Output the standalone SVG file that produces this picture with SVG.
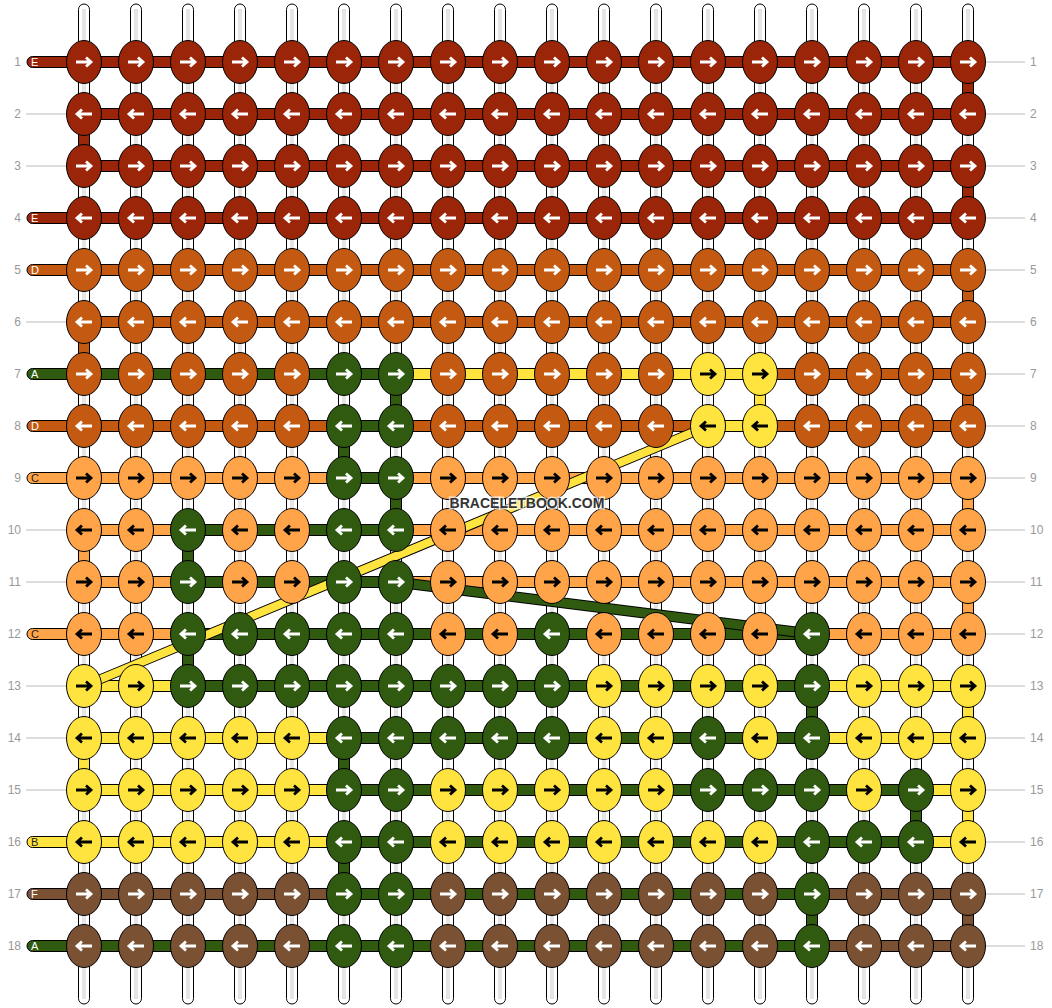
<svg xmlns="http://www.w3.org/2000/svg" xmlns:xlink="http://www.w3.org/1999/xlink" width="1052" height="1008" viewBox="0 0 1052 1008">
<style>
.E{fill:#9A2508}.D{fill:#C45A12}.C{fill:#FFA448}.A{fill:#2F5A10}.B{fill:#FFE43F}.F{fill:#7A5233}
.n{stroke:#fff}.n.C,.n.B{stroke:#000}
#conn rect{stroke:#000;stroke-width:1}
.num{font-family:"Liberation Sans",Arial,sans-serif;font-size:12px;fill:#999}
.lab{font-family:"Liberation Sans",Arial,sans-serif;font-size:11px;fill:#fff}
.lab.dk{fill:#222}
.gl{stroke:#bbb;stroke-width:1}
.wm{font-family:"Liberation Sans",Arial,sans-serif;font-size:14px;font-weight:bold;fill:#333;stroke:#fff;stroke-width:3;stroke-opacity:0.7;paint-order:stroke;text-anchor:middle}
</style>
<defs>
<ellipse id="k" rx="17.5" ry="21.5" stroke="#000" stroke-width="1"/>
<path id="r" d="M-8,0H6.5M2,-4.5L7,0L2,4.5" fill="none" stroke-width="2.8"/>
<path id="l" d="M8,0H-6.5M-2,-4.5L-7,0L-2,4.5" fill="none" stroke-width="2.8"/>
<g id="st"><rect x="-5.5" y="4" width="11" height="1000" rx="5.5" fill="#fff" stroke="#000"/><line x1="0" y1="9" x2="0" y2="999" stroke="#ccc" stroke-width="3"/><line x1="0" y1="9" x2="0" y2="999" stroke="#fff" stroke-width="1"/></g>
</defs>
<rect width="1052" height="1008" fill="#fff"/>
<g id="strings">
<use href="#st" x="84"/><use href="#st" x="136"/><use href="#st" x="188"/><use href="#st" x="240"/><use href="#st" x="292"/><use href="#st" x="344"/><use href="#st" x="396"/><use href="#st" x="448"/><use href="#st" x="500"/><use href="#st" x="552"/><use href="#st" x="604"/><use href="#st" x="656"/><use href="#st" x="708"/><use href="#st" x="760"/><use href="#st" x="812"/><use href="#st" x="864"/><use href="#st" x="916"/><use href="#st" x="968"/>
</g>
<g id="rowlines" class="gl">
<line x1="26" y1="114" x2="67" y2="114"/><line x1="26" y1="166" x2="67" y2="166"/><line x1="26" y1="322" x2="67" y2="322"/><line x1="26" y1="530" x2="67" y2="530"/><line x1="26" y1="582" x2="67" y2="582"/><line x1="26" y1="686" x2="67" y2="686"/><line x1="26" y1="738" x2="67" y2="738"/><line x1="26" y1="790" x2="67" y2="790"/>
<line x1="985" y1="62" x2="1025" y2="62"/><line x1="985" y1="114" x2="1025" y2="114"/><line x1="985" y1="166" x2="1025" y2="166"/><line x1="985" y1="218" x2="1025" y2="218"/><line x1="985" y1="270" x2="1025" y2="270"/><line x1="985" y1="322" x2="1025" y2="322"/><line x1="985" y1="374" x2="1025" y2="374"/><line x1="985" y1="426" x2="1025" y2="426"/><line x1="985" y1="478" x2="1025" y2="478"/><line x1="985" y1="530" x2="1025" y2="530"/><line x1="985" y1="582" x2="1025" y2="582"/><line x1="985" y1="634" x2="1025" y2="634"/><line x1="985" y1="686" x2="1025" y2="686"/><line x1="985" y1="738" x2="1025" y2="738"/><line x1="985" y1="790" x2="1025" y2="790"/><line x1="985" y1="842" x2="1025" y2="842"/><line x1="985" y1="894" x2="1025" y2="894"/><line x1="985" y1="946" x2="1025" y2="946"/>
</g>
<g id="conn">
<rect class="E" x="78.5" y="114" width="11" height="52"/><rect class="D" x="78.5" y="322" width="11" height="52"/><rect class="C" x="78.5" y="530" width="11" height="52"/><rect class="B" x="78.5" y="738" width="11" height="52"/>
<rect class="E" x="962.5" y="62" width="11" height="52"/><rect class="E" x="962.5" y="166" width="11" height="52"/><rect class="D" x="962.5" y="270" width="11" height="52"/><rect class="D" x="962.5" y="374" width="11" height="52"/><rect class="C" x="962.5" y="478" width="11" height="52"/><rect class="C" x="962.5" y="582" width="11" height="52"/><rect class="B" x="962.5" y="686" width="11" height="52"/><rect class="B" x="962.5" y="790" width="11" height="52"/><rect class="F" x="962.5" y="894" width="11" height="52"/>
<rect class="A" x="390.5" y="374" width="11" height="52"/><rect class="A" x="390.5" y="478" width="11" height="52"/>
<rect class="A" x="338.5" y="426" width="11" height="52"/><rect class="A" x="338.5" y="738" width="11" height="52"/><rect class="A" x="338.5" y="842" width="11" height="52"/>
<rect class="A" x="182.5" y="530" width="11" height="52"/><rect class="A" x="182.5" y="634" width="11" height="52"/>
<rect class="B" x="754.5" y="374" width="11" height="52"/>
<rect class="A" x="806.5" y="686" width="11" height="52"/><rect class="A" x="806.5" y="894" width="11" height="52"/>
<rect class="A" x="910.5" y="790" width="11" height="52"/>
<rect class="E" x="27" y="56.5" width="941" height="11" rx="5.5"/>
<rect class="E" x="84" y="108.5" width="884" height="11" rx="5.5"/>
<rect class="E" x="84" y="160.5" width="884" height="11" rx="5.5"/>
<rect class="E" x="27" y="212.5" width="941" height="11" rx="5.5"/>
<rect class="D" x="27" y="264.5" width="941" height="11" rx="5.5"/>
<rect class="D" x="84" y="316.5" width="884" height="11" rx="5.5"/>
<rect class="A" x="27" y="368.5" width="369" height="11" rx="5.5"/><rect class="B" x="396" y="368.5" width="364" height="11" rx="5.5"/><rect class="D" x="760" y="368.5" width="208" height="11" rx="5.5"/>
<rect class="D" x="27" y="420.5" width="317" height="11" rx="5.5"/><rect class="A" x="344" y="420.5" width="52" height="11" rx="5.5"/><rect class="D" x="396" y="420.5" width="312" height="11" rx="5.5"/><rect class="B" x="708" y="420.5" width="52" height="11" rx="5.5"/><rect class="D" x="760" y="420.5" width="208" height="11" rx="5.5"/>
<rect class="C" x="27" y="472.5" width="317" height="11" rx="5.5"/><rect class="A" x="344" y="472.5" width="52" height="11" rx="5.5"/><rect class="C" x="396" y="472.5" width="572" height="11" rx="5.5"/>
<rect class="C" x="84" y="524.5" width="104" height="11" rx="5.5"/><rect class="A" x="188" y="524.5" width="208" height="11" rx="5.5"/><rect class="C" x="396" y="524.5" width="572" height="11" rx="5.5"/>
<rect class="C" x="84" y="576.5" width="104" height="11" rx="5.5"/><rect class="A" x="188" y="576.5" width="208" height="11" rx="5.5"/><rect class="C" x="396" y="576.5" width="572" height="11" rx="5.5"/>
<rect class="C" x="27" y="628.5" width="161" height="11" rx="5.5"/><rect class="A" x="188" y="628.5" width="624" height="11" rx="5.5"/><rect class="C" x="812" y="628.5" width="156" height="11" rx="5.5"/>
<rect class="B" x="84" y="680.5" width="104" height="11" rx="5.5"/><rect class="A" x="188" y="680.5" width="624" height="11" rx="5.5"/><rect class="B" x="812" y="680.5" width="156" height="11" rx="5.5"/>
<rect class="B" x="84" y="732.5" width="260" height="11" rx="5.5"/><rect class="A" x="344" y="732.5" width="468" height="11" rx="5.5"/><rect class="B" x="812" y="732.5" width="156" height="11" rx="5.5"/>
<rect class="B" x="84" y="784.5" width="260" height="11" rx="5.5"/><rect class="A" x="344" y="784.5" width="572" height="11" rx="5.5"/><rect class="B" x="916" y="784.5" width="52" height="11" rx="5.5"/>
<rect class="B" x="27" y="836.5" width="317" height="11" rx="5.5"/><rect class="A" x="344" y="836.5" width="572" height="11" rx="5.5"/><rect class="B" x="916" y="836.5" width="52" height="11" rx="5.5"/>
<rect class="F" x="27" y="888.5" width="317" height="11" rx="5.5"/><rect class="A" x="344" y="888.5" width="468" height="11" rx="5.5"/><rect class="F" x="812" y="888.5" width="156" height="11" rx="5.5"/>
<rect class="A" x="27" y="940.5" width="785" height="11" rx="5.5"/><rect class="F" x="812" y="940.5" width="156" height="11" rx="5.5"/>
<line x1="84" y1="686" x2="708" y2="426" stroke="#000" stroke-width="10"/><line x1="84" y1="686" x2="708" y2="426" stroke="#FFE43F" stroke-width="8"/>
<line x1="396" y1="582" x2="812" y2="634" stroke="#000" stroke-width="11"/><line x1="396" y1="582" x2="812" y2="634" stroke="#2F5A10" stroke-width="9"/>
</g>
<g id="labels">
<text class="lab" x="31" y="66">E</text><text class="lab" x="31" y="222">E</text><text class="lab" x="31" y="274">D</text><text class="lab" x="31" y="378">A</text><text class="lab" x="31" y="430">D</text><text class="lab dk" x="31" y="482">C</text><text class="lab dk" x="31" y="638">C</text><text class="lab dk" x="31" y="846">B</text><text class="lab" x="31" y="898">F</text><text class="lab" x="31" y="950">A</text>
</g>
<g id="numbers" class="num">
<text x="21" y="66" text-anchor="end">1</text><text x="21" y="118" text-anchor="end">2</text><text x="21" y="170" text-anchor="end">3</text><text x="21" y="222" text-anchor="end">4</text><text x="21" y="274" text-anchor="end">5</text><text x="21" y="326" text-anchor="end">6</text><text x="21" y="378" text-anchor="end">7</text><text x="21" y="430" text-anchor="end">8</text><text x="21" y="482" text-anchor="end">9</text><text x="21" y="534" text-anchor="end">10</text><text x="21" y="586" text-anchor="end">11</text><text x="21" y="638" text-anchor="end">12</text><text x="21" y="690" text-anchor="end">13</text><text x="21" y="742" text-anchor="end">14</text><text x="21" y="794" text-anchor="end">15</text><text x="21" y="846" text-anchor="end">16</text><text x="21" y="898" text-anchor="end">17</text><text x="21" y="950" text-anchor="end">18</text>
<text x="1030" y="66">1</text><text x="1030" y="118">2</text><text x="1030" y="170">3</text><text x="1030" y="222">4</text><text x="1030" y="274">5</text><text x="1030" y="326">6</text><text x="1030" y="378">7</text><text x="1030" y="430">8</text><text x="1030" y="482">9</text><text x="1030" y="534">10</text><text x="1030" y="586">11</text><text x="1030" y="638">12</text><text x="1030" y="690">13</text><text x="1030" y="742">14</text><text x="1030" y="794">15</text><text x="1030" y="846">16</text><text x="1030" y="898">17</text><text x="1030" y="950">18</text>
</g>
<g id="knots">
<g id="n1-1" class="n E" transform="translate(84 62)"><use href="#k"/><use href="#r"/></g><g id="n1-2" class="n E" transform="translate(136 62)"><use href="#k"/><use href="#r"/></g><g id="n1-3" class="n E" transform="translate(188 62)"><use href="#k"/><use href="#r"/></g><g id="n1-4" class="n E" transform="translate(240 62)"><use href="#k"/><use href="#r"/></g><g id="n1-5" class="n E" transform="translate(292 62)"><use href="#k"/><use href="#r"/></g><g id="n1-6" class="n E" transform="translate(344 62)"><use href="#k"/><use href="#r"/></g><g id="n1-7" class="n E" transform="translate(396 62)"><use href="#k"/><use href="#r"/></g><g id="n1-8" class="n E" transform="translate(448 62)"><use href="#k"/><use href="#r"/></g><g id="n1-9" class="n E" transform="translate(500 62)"><use href="#k"/><use href="#r"/></g><g id="n1-10" class="n E" transform="translate(552 62)"><use href="#k"/><use href="#r"/></g><g id="n1-11" class="n E" transform="translate(604 62)"><use href="#k"/><use href="#r"/></g><g id="n1-12" class="n E" transform="translate(656 62)"><use href="#k"/><use href="#r"/></g><g id="n1-13" class="n E" transform="translate(708 62)"><use href="#k"/><use href="#r"/></g><g id="n1-14" class="n E" transform="translate(760 62)"><use href="#k"/><use href="#r"/></g><g id="n1-15" class="n E" transform="translate(812 62)"><use href="#k"/><use href="#r"/></g><g id="n1-16" class="n E" transform="translate(864 62)"><use href="#k"/><use href="#r"/></g><g id="n1-17" class="n E" transform="translate(916 62)"><use href="#k"/><use href="#r"/></g><g id="n1-18" class="n E" transform="translate(968 62)"><use href="#k"/><use href="#r"/></g>
<g id="n2-1" class="n E" transform="translate(84 114)"><use href="#k"/><use href="#l"/></g><g id="n2-2" class="n E" transform="translate(136 114)"><use href="#k"/><use href="#l"/></g><g id="n2-3" class="n E" transform="translate(188 114)"><use href="#k"/><use href="#l"/></g><g id="n2-4" class="n E" transform="translate(240 114)"><use href="#k"/><use href="#l"/></g><g id="n2-5" class="n E" transform="translate(292 114)"><use href="#k"/><use href="#l"/></g><g id="n2-6" class="n E" transform="translate(344 114)"><use href="#k"/><use href="#l"/></g><g id="n2-7" class="n E" transform="translate(396 114)"><use href="#k"/><use href="#l"/></g><g id="n2-8" class="n E" transform="translate(448 114)"><use href="#k"/><use href="#l"/></g><g id="n2-9" class="n E" transform="translate(500 114)"><use href="#k"/><use href="#l"/></g><g id="n2-10" class="n E" transform="translate(552 114)"><use href="#k"/><use href="#l"/></g><g id="n2-11" class="n E" transform="translate(604 114)"><use href="#k"/><use href="#l"/></g><g id="n2-12" class="n E" transform="translate(656 114)"><use href="#k"/><use href="#l"/></g><g id="n2-13" class="n E" transform="translate(708 114)"><use href="#k"/><use href="#l"/></g><g id="n2-14" class="n E" transform="translate(760 114)"><use href="#k"/><use href="#l"/></g><g id="n2-15" class="n E" transform="translate(812 114)"><use href="#k"/><use href="#l"/></g><g id="n2-16" class="n E" transform="translate(864 114)"><use href="#k"/><use href="#l"/></g><g id="n2-17" class="n E" transform="translate(916 114)"><use href="#k"/><use href="#l"/></g><g id="n2-18" class="n E" transform="translate(968 114)"><use href="#k"/><use href="#l"/></g>
<g id="n3-1" class="n E" transform="translate(84 166)"><use href="#k"/><use href="#r"/></g><g id="n3-2" class="n E" transform="translate(136 166)"><use href="#k"/><use href="#r"/></g><g id="n3-3" class="n E" transform="translate(188 166)"><use href="#k"/><use href="#r"/></g><g id="n3-4" class="n E" transform="translate(240 166)"><use href="#k"/><use href="#r"/></g><g id="n3-5" class="n E" transform="translate(292 166)"><use href="#k"/><use href="#r"/></g><g id="n3-6" class="n E" transform="translate(344 166)"><use href="#k"/><use href="#r"/></g><g id="n3-7" class="n E" transform="translate(396 166)"><use href="#k"/><use href="#r"/></g><g id="n3-8" class="n E" transform="translate(448 166)"><use href="#k"/><use href="#r"/></g><g id="n3-9" class="n E" transform="translate(500 166)"><use href="#k"/><use href="#r"/></g><g id="n3-10" class="n E" transform="translate(552 166)"><use href="#k"/><use href="#r"/></g><g id="n3-11" class="n E" transform="translate(604 166)"><use href="#k"/><use href="#r"/></g><g id="n3-12" class="n E" transform="translate(656 166)"><use href="#k"/><use href="#r"/></g><g id="n3-13" class="n E" transform="translate(708 166)"><use href="#k"/><use href="#r"/></g><g id="n3-14" class="n E" transform="translate(760 166)"><use href="#k"/><use href="#r"/></g><g id="n3-15" class="n E" transform="translate(812 166)"><use href="#k"/><use href="#r"/></g><g id="n3-16" class="n E" transform="translate(864 166)"><use href="#k"/><use href="#r"/></g><g id="n3-17" class="n E" transform="translate(916 166)"><use href="#k"/><use href="#r"/></g><g id="n3-18" class="n E" transform="translate(968 166)"><use href="#k"/><use href="#r"/></g>
<g id="n4-1" class="n E" transform="translate(84 218)"><use href="#k"/><use href="#l"/></g><g id="n4-2" class="n E" transform="translate(136 218)"><use href="#k"/><use href="#l"/></g><g id="n4-3" class="n E" transform="translate(188 218)"><use href="#k"/><use href="#l"/></g><g id="n4-4" class="n E" transform="translate(240 218)"><use href="#k"/><use href="#l"/></g><g id="n4-5" class="n E" transform="translate(292 218)"><use href="#k"/><use href="#l"/></g><g id="n4-6" class="n E" transform="translate(344 218)"><use href="#k"/><use href="#l"/></g><g id="n4-7" class="n E" transform="translate(396 218)"><use href="#k"/><use href="#l"/></g><g id="n4-8" class="n E" transform="translate(448 218)"><use href="#k"/><use href="#l"/></g><g id="n4-9" class="n E" transform="translate(500 218)"><use href="#k"/><use href="#l"/></g><g id="n4-10" class="n E" transform="translate(552 218)"><use href="#k"/><use href="#l"/></g><g id="n4-11" class="n E" transform="translate(604 218)"><use href="#k"/><use href="#l"/></g><g id="n4-12" class="n E" transform="translate(656 218)"><use href="#k"/><use href="#l"/></g><g id="n4-13" class="n E" transform="translate(708 218)"><use href="#k"/><use href="#l"/></g><g id="n4-14" class="n E" transform="translate(760 218)"><use href="#k"/><use href="#l"/></g><g id="n4-15" class="n E" transform="translate(812 218)"><use href="#k"/><use href="#l"/></g><g id="n4-16" class="n E" transform="translate(864 218)"><use href="#k"/><use href="#l"/></g><g id="n4-17" class="n E" transform="translate(916 218)"><use href="#k"/><use href="#l"/></g><g id="n4-18" class="n E" transform="translate(968 218)"><use href="#k"/><use href="#l"/></g>
<g id="n5-1" class="n D" transform="translate(84 270)"><use href="#k"/><use href="#r"/></g><g id="n5-2" class="n D" transform="translate(136 270)"><use href="#k"/><use href="#r"/></g><g id="n5-3" class="n D" transform="translate(188 270)"><use href="#k"/><use href="#r"/></g><g id="n5-4" class="n D" transform="translate(240 270)"><use href="#k"/><use href="#r"/></g><g id="n5-5" class="n D" transform="translate(292 270)"><use href="#k"/><use href="#r"/></g><g id="n5-6" class="n D" transform="translate(344 270)"><use href="#k"/><use href="#r"/></g><g id="n5-7" class="n D" transform="translate(396 270)"><use href="#k"/><use href="#r"/></g><g id="n5-8" class="n D" transform="translate(448 270)"><use href="#k"/><use href="#r"/></g><g id="n5-9" class="n D" transform="translate(500 270)"><use href="#k"/><use href="#r"/></g><g id="n5-10" class="n D" transform="translate(552 270)"><use href="#k"/><use href="#r"/></g><g id="n5-11" class="n D" transform="translate(604 270)"><use href="#k"/><use href="#r"/></g><g id="n5-12" class="n D" transform="translate(656 270)"><use href="#k"/><use href="#r"/></g><g id="n5-13" class="n D" transform="translate(708 270)"><use href="#k"/><use href="#r"/></g><g id="n5-14" class="n D" transform="translate(760 270)"><use href="#k"/><use href="#r"/></g><g id="n5-15" class="n D" transform="translate(812 270)"><use href="#k"/><use href="#r"/></g><g id="n5-16" class="n D" transform="translate(864 270)"><use href="#k"/><use href="#r"/></g><g id="n5-17" class="n D" transform="translate(916 270)"><use href="#k"/><use href="#r"/></g><g id="n5-18" class="n D" transform="translate(968 270)"><use href="#k"/><use href="#r"/></g>
<g id="n6-1" class="n D" transform="translate(84 322)"><use href="#k"/><use href="#l"/></g><g id="n6-2" class="n D" transform="translate(136 322)"><use href="#k"/><use href="#l"/></g><g id="n6-3" class="n D" transform="translate(188 322)"><use href="#k"/><use href="#l"/></g><g id="n6-4" class="n D" transform="translate(240 322)"><use href="#k"/><use href="#l"/></g><g id="n6-5" class="n D" transform="translate(292 322)"><use href="#k"/><use href="#l"/></g><g id="n6-6" class="n D" transform="translate(344 322)"><use href="#k"/><use href="#l"/></g><g id="n6-7" class="n D" transform="translate(396 322)"><use href="#k"/><use href="#l"/></g><g id="n6-8" class="n D" transform="translate(448 322)"><use href="#k"/><use href="#l"/></g><g id="n6-9" class="n D" transform="translate(500 322)"><use href="#k"/><use href="#l"/></g><g id="n6-10" class="n D" transform="translate(552 322)"><use href="#k"/><use href="#l"/></g><g id="n6-11" class="n D" transform="translate(604 322)"><use href="#k"/><use href="#l"/></g><g id="n6-12" class="n D" transform="translate(656 322)"><use href="#k"/><use href="#l"/></g><g id="n6-13" class="n D" transform="translate(708 322)"><use href="#k"/><use href="#l"/></g><g id="n6-14" class="n D" transform="translate(760 322)"><use href="#k"/><use href="#l"/></g><g id="n6-15" class="n D" transform="translate(812 322)"><use href="#k"/><use href="#l"/></g><g id="n6-16" class="n D" transform="translate(864 322)"><use href="#k"/><use href="#l"/></g><g id="n6-17" class="n D" transform="translate(916 322)"><use href="#k"/><use href="#l"/></g><g id="n6-18" class="n D" transform="translate(968 322)"><use href="#k"/><use href="#l"/></g>
<g id="n7-1" class="n D" transform="translate(84 374)"><use href="#k"/><use href="#r"/></g><g id="n7-2" class="n D" transform="translate(136 374)"><use href="#k"/><use href="#r"/></g><g id="n7-3" class="n D" transform="translate(188 374)"><use href="#k"/><use href="#r"/></g><g id="n7-4" class="n D" transform="translate(240 374)"><use href="#k"/><use href="#r"/></g><g id="n7-5" class="n D" transform="translate(292 374)"><use href="#k"/><use href="#r"/></g><g id="n7-6" class="n A" transform="translate(344 374)"><use href="#k"/><use href="#r"/></g><g id="n7-7" class="n A" transform="translate(396 374)"><use href="#k"/><use href="#r"/></g><g id="n7-8" class="n D" transform="translate(448 374)"><use href="#k"/><use href="#r"/></g><g id="n7-9" class="n D" transform="translate(500 374)"><use href="#k"/><use href="#r"/></g><g id="n7-10" class="n D" transform="translate(552 374)"><use href="#k"/><use href="#r"/></g><g id="n7-11" class="n D" transform="translate(604 374)"><use href="#k"/><use href="#r"/></g><g id="n7-12" class="n D" transform="translate(656 374)"><use href="#k"/><use href="#r"/></g><g id="n7-13" class="n B" transform="translate(708 374)"><use href="#k"/><use href="#r"/></g><g id="n7-14" class="n B" transform="translate(760 374)"><use href="#k"/><use href="#r"/></g><g id="n7-15" class="n D" transform="translate(812 374)"><use href="#k"/><use href="#r"/></g><g id="n7-16" class="n D" transform="translate(864 374)"><use href="#k"/><use href="#r"/></g><g id="n7-17" class="n D" transform="translate(916 374)"><use href="#k"/><use href="#r"/></g><g id="n7-18" class="n D" transform="translate(968 374)"><use href="#k"/><use href="#r"/></g>
<g id="n8-1" class="n D" transform="translate(84 426)"><use href="#k"/><use href="#l"/></g><g id="n8-2" class="n D" transform="translate(136 426)"><use href="#k"/><use href="#l"/></g><g id="n8-3" class="n D" transform="translate(188 426)"><use href="#k"/><use href="#l"/></g><g id="n8-4" class="n D" transform="translate(240 426)"><use href="#k"/><use href="#l"/></g><g id="n8-5" class="n D" transform="translate(292 426)"><use href="#k"/><use href="#l"/></g><g id="n8-6" class="n A" transform="translate(344 426)"><use href="#k"/><use href="#l"/></g><g id="n8-7" class="n A" transform="translate(396 426)"><use href="#k"/><use href="#l"/></g><g id="n8-8" class="n D" transform="translate(448 426)"><use href="#k"/><use href="#l"/></g><g id="n8-9" class="n D" transform="translate(500 426)"><use href="#k"/><use href="#l"/></g><g id="n8-10" class="n D" transform="translate(552 426)"><use href="#k"/><use href="#l"/></g><g id="n8-11" class="n D" transform="translate(604 426)"><use href="#k"/><use href="#l"/></g><g id="n8-12" class="n D" transform="translate(656 426)"><use href="#k"/><use href="#l"/></g><g id="n8-13" class="n B" transform="translate(708 426)"><use href="#k"/><use href="#l"/></g><g id="n8-14" class="n B" transform="translate(760 426)"><use href="#k"/><use href="#l"/></g><g id="n8-15" class="n D" transform="translate(812 426)"><use href="#k"/><use href="#l"/></g><g id="n8-16" class="n D" transform="translate(864 426)"><use href="#k"/><use href="#l"/></g><g id="n8-17" class="n D" transform="translate(916 426)"><use href="#k"/><use href="#l"/></g><g id="n8-18" class="n D" transform="translate(968 426)"><use href="#k"/><use href="#l"/></g>
<g id="n9-1" class="n C" transform="translate(84 478)"><use href="#k"/><use href="#r"/></g><g id="n9-2" class="n C" transform="translate(136 478)"><use href="#k"/><use href="#r"/></g><g id="n9-3" class="n C" transform="translate(188 478)"><use href="#k"/><use href="#r"/></g><g id="n9-4" class="n C" transform="translate(240 478)"><use href="#k"/><use href="#r"/></g><g id="n9-5" class="n C" transform="translate(292 478)"><use href="#k"/><use href="#r"/></g><g id="n9-6" class="n A" transform="translate(344 478)"><use href="#k"/><use href="#r"/></g><g id="n9-7" class="n A" transform="translate(396 478)"><use href="#k"/><use href="#r"/></g><g id="n9-8" class="n C" transform="translate(448 478)"><use href="#k"/><use href="#r"/></g><g id="n9-9" class="n C" transform="translate(500 478)"><use href="#k"/><use href="#r"/></g><g id="n9-10" class="n C" transform="translate(552 478)"><use href="#k"/><use href="#r"/></g><g id="n9-11" class="n C" transform="translate(604 478)"><use href="#k"/><use href="#r"/></g><g id="n9-12" class="n C" transform="translate(656 478)"><use href="#k"/><use href="#r"/></g><g id="n9-13" class="n C" transform="translate(708 478)"><use href="#k"/><use href="#r"/></g><g id="n9-14" class="n C" transform="translate(760 478)"><use href="#k"/><use href="#r"/></g><g id="n9-15" class="n C" transform="translate(812 478)"><use href="#k"/><use href="#r"/></g><g id="n9-16" class="n C" transform="translate(864 478)"><use href="#k"/><use href="#r"/></g><g id="n9-17" class="n C" transform="translate(916 478)"><use href="#k"/><use href="#r"/></g><g id="n9-18" class="n C" transform="translate(968 478)"><use href="#k"/><use href="#r"/></g>
<g id="n10-1" class="n C" transform="translate(84 530)"><use href="#k"/><use href="#l"/></g><g id="n10-2" class="n C" transform="translate(136 530)"><use href="#k"/><use href="#l"/></g><g id="n10-3" class="n A" transform="translate(188 530)"><use href="#k"/><use href="#l"/></g><g id="n10-4" class="n C" transform="translate(240 530)"><use href="#k"/><use href="#l"/></g><g id="n10-5" class="n C" transform="translate(292 530)"><use href="#k"/><use href="#l"/></g><g id="n10-6" class="n A" transform="translate(344 530)"><use href="#k"/><use href="#l"/></g><g id="n10-7" class="n A" transform="translate(396 530)"><use href="#k"/><use href="#l"/></g><g id="n10-8" class="n C" transform="translate(448 530)"><use href="#k"/><use href="#l"/></g><g id="n10-9" class="n C" transform="translate(500 530)"><use href="#k"/><use href="#l"/></g><g id="n10-10" class="n C" transform="translate(552 530)"><use href="#k"/><use href="#l"/></g><g id="n10-11" class="n C" transform="translate(604 530)"><use href="#k"/><use href="#l"/></g><g id="n10-12" class="n C" transform="translate(656 530)"><use href="#k"/><use href="#l"/></g><g id="n10-13" class="n C" transform="translate(708 530)"><use href="#k"/><use href="#l"/></g><g id="n10-14" class="n C" transform="translate(760 530)"><use href="#k"/><use href="#l"/></g><g id="n10-15" class="n C" transform="translate(812 530)"><use href="#k"/><use href="#l"/></g><g id="n10-16" class="n C" transform="translate(864 530)"><use href="#k"/><use href="#l"/></g><g id="n10-17" class="n C" transform="translate(916 530)"><use href="#k"/><use href="#l"/></g><g id="n10-18" class="n C" transform="translate(968 530)"><use href="#k"/><use href="#l"/></g>
<g id="n11-1" class="n C" transform="translate(84 582)"><use href="#k"/><use href="#r"/></g><g id="n11-2" class="n C" transform="translate(136 582)"><use href="#k"/><use href="#r"/></g><g id="n11-3" class="n A" transform="translate(188 582)"><use href="#k"/><use href="#r"/></g><g id="n11-4" class="n C" transform="translate(240 582)"><use href="#k"/><use href="#r"/></g><g id="n11-5" class="n C" transform="translate(292 582)"><use href="#k"/><use href="#r"/></g><g id="n11-6" class="n A" transform="translate(344 582)"><use href="#k"/><use href="#r"/></g><g id="n11-7" class="n A" transform="translate(396 582)"><use href="#k"/><use href="#r"/></g><g id="n11-8" class="n C" transform="translate(448 582)"><use href="#k"/><use href="#r"/></g><g id="n11-9" class="n C" transform="translate(500 582)"><use href="#k"/><use href="#r"/></g><g id="n11-10" class="n C" transform="translate(552 582)"><use href="#k"/><use href="#r"/></g><g id="n11-11" class="n C" transform="translate(604 582)"><use href="#k"/><use href="#r"/></g><g id="n11-12" class="n C" transform="translate(656 582)"><use href="#k"/><use href="#r"/></g><g id="n11-13" class="n C" transform="translate(708 582)"><use href="#k"/><use href="#r"/></g><g id="n11-14" class="n C" transform="translate(760 582)"><use href="#k"/><use href="#r"/></g><g id="n11-15" class="n C" transform="translate(812 582)"><use href="#k"/><use href="#r"/></g><g id="n11-16" class="n C" transform="translate(864 582)"><use href="#k"/><use href="#r"/></g><g id="n11-17" class="n C" transform="translate(916 582)"><use href="#k"/><use href="#r"/></g><g id="n11-18" class="n C" transform="translate(968 582)"><use href="#k"/><use href="#r"/></g>
<g id="n12-1" class="n C" transform="translate(84 634)"><use href="#k"/><use href="#l"/></g><g id="n12-2" class="n C" transform="translate(136 634)"><use href="#k"/><use href="#l"/></g><g id="n12-3" class="n A" transform="translate(188 634)"><use href="#k"/><use href="#l"/></g><g id="n12-4" class="n A" transform="translate(240 634)"><use href="#k"/><use href="#l"/></g><g id="n12-5" class="n A" transform="translate(292 634)"><use href="#k"/><use href="#l"/></g><g id="n12-6" class="n A" transform="translate(344 634)"><use href="#k"/><use href="#l"/></g><g id="n12-7" class="n A" transform="translate(396 634)"><use href="#k"/><use href="#l"/></g><g id="n12-8" class="n C" transform="translate(448 634)"><use href="#k"/><use href="#l"/></g><g id="n12-9" class="n C" transform="translate(500 634)"><use href="#k"/><use href="#l"/></g><g id="n12-10" class="n A" transform="translate(552 634)"><use href="#k"/><use href="#l"/></g><g id="n12-11" class="n C" transform="translate(604 634)"><use href="#k"/><use href="#l"/></g><g id="n12-12" class="n C" transform="translate(656 634)"><use href="#k"/><use href="#l"/></g><g id="n12-13" class="n C" transform="translate(708 634)"><use href="#k"/><use href="#l"/></g><g id="n12-14" class="n C" transform="translate(760 634)"><use href="#k"/><use href="#l"/></g><g id="n12-15" class="n A" transform="translate(812 634)"><use href="#k"/><use href="#l"/></g><g id="n12-16" class="n C" transform="translate(864 634)"><use href="#k"/><use href="#l"/></g><g id="n12-17" class="n C" transform="translate(916 634)"><use href="#k"/><use href="#l"/></g><g id="n12-18" class="n C" transform="translate(968 634)"><use href="#k"/><use href="#l"/></g>
<g id="n13-1" class="n B" transform="translate(84 686)"><use href="#k"/><use href="#r"/></g><g id="n13-2" class="n B" transform="translate(136 686)"><use href="#k"/><use href="#r"/></g><g id="n13-3" class="n A" transform="translate(188 686)"><use href="#k"/><use href="#r"/></g><g id="n13-4" class="n A" transform="translate(240 686)"><use href="#k"/><use href="#r"/></g><g id="n13-5" class="n A" transform="translate(292 686)"><use href="#k"/><use href="#r"/></g><g id="n13-6" class="n A" transform="translate(344 686)"><use href="#k"/><use href="#r"/></g><g id="n13-7" class="n A" transform="translate(396 686)"><use href="#k"/><use href="#r"/></g><g id="n13-8" class="n A" transform="translate(448 686)"><use href="#k"/><use href="#r"/></g><g id="n13-9" class="n A" transform="translate(500 686)"><use href="#k"/><use href="#r"/></g><g id="n13-10" class="n A" transform="translate(552 686)"><use href="#k"/><use href="#r"/></g><g id="n13-11" class="n B" transform="translate(604 686)"><use href="#k"/><use href="#r"/></g><g id="n13-12" class="n B" transform="translate(656 686)"><use href="#k"/><use href="#r"/></g><g id="n13-13" class="n B" transform="translate(708 686)"><use href="#k"/><use href="#r"/></g><g id="n13-14" class="n B" transform="translate(760 686)"><use href="#k"/><use href="#r"/></g><g id="n13-15" class="n A" transform="translate(812 686)"><use href="#k"/><use href="#r"/></g><g id="n13-16" class="n B" transform="translate(864 686)"><use href="#k"/><use href="#r"/></g><g id="n13-17" class="n B" transform="translate(916 686)"><use href="#k"/><use href="#r"/></g><g id="n13-18" class="n B" transform="translate(968 686)"><use href="#k"/><use href="#r"/></g>
<g id="n14-1" class="n B" transform="translate(84 738)"><use href="#k"/><use href="#l"/></g><g id="n14-2" class="n B" transform="translate(136 738)"><use href="#k"/><use href="#l"/></g><g id="n14-3" class="n B" transform="translate(188 738)"><use href="#k"/><use href="#l"/></g><g id="n14-4" class="n B" transform="translate(240 738)"><use href="#k"/><use href="#l"/></g><g id="n14-5" class="n B" transform="translate(292 738)"><use href="#k"/><use href="#l"/></g><g id="n14-6" class="n A" transform="translate(344 738)"><use href="#k"/><use href="#l"/></g><g id="n14-7" class="n A" transform="translate(396 738)"><use href="#k"/><use href="#l"/></g><g id="n14-8" class="n A" transform="translate(448 738)"><use href="#k"/><use href="#l"/></g><g id="n14-9" class="n A" transform="translate(500 738)"><use href="#k"/><use href="#l"/></g><g id="n14-10" class="n A" transform="translate(552 738)"><use href="#k"/><use href="#l"/></g><g id="n14-11" class="n B" transform="translate(604 738)"><use href="#k"/><use href="#l"/></g><g id="n14-12" class="n B" transform="translate(656 738)"><use href="#k"/><use href="#l"/></g><g id="n14-13" class="n A" transform="translate(708 738)"><use href="#k"/><use href="#l"/></g><g id="n14-14" class="n B" transform="translate(760 738)"><use href="#k"/><use href="#l"/></g><g id="n14-15" class="n A" transform="translate(812 738)"><use href="#k"/><use href="#l"/></g><g id="n14-16" class="n B" transform="translate(864 738)"><use href="#k"/><use href="#l"/></g><g id="n14-17" class="n B" transform="translate(916 738)"><use href="#k"/><use href="#l"/></g><g id="n14-18" class="n B" transform="translate(968 738)"><use href="#k"/><use href="#l"/></g>
<g id="n15-1" class="n B" transform="translate(84 790)"><use href="#k"/><use href="#r"/></g><g id="n15-2" class="n B" transform="translate(136 790)"><use href="#k"/><use href="#r"/></g><g id="n15-3" class="n B" transform="translate(188 790)"><use href="#k"/><use href="#r"/></g><g id="n15-4" class="n B" transform="translate(240 790)"><use href="#k"/><use href="#r"/></g><g id="n15-5" class="n B" transform="translate(292 790)"><use href="#k"/><use href="#r"/></g><g id="n15-6" class="n A" transform="translate(344 790)"><use href="#k"/><use href="#r"/></g><g id="n15-7" class="n A" transform="translate(396 790)"><use href="#k"/><use href="#r"/></g><g id="n15-8" class="n B" transform="translate(448 790)"><use href="#k"/><use href="#r"/></g><g id="n15-9" class="n B" transform="translate(500 790)"><use href="#k"/><use href="#r"/></g><g id="n15-10" class="n B" transform="translate(552 790)"><use href="#k"/><use href="#r"/></g><g id="n15-11" class="n B" transform="translate(604 790)"><use href="#k"/><use href="#r"/></g><g id="n15-12" class="n B" transform="translate(656 790)"><use href="#k"/><use href="#r"/></g><g id="n15-13" class="n A" transform="translate(708 790)"><use href="#k"/><use href="#r"/></g><g id="n15-14" class="n A" transform="translate(760 790)"><use href="#k"/><use href="#r"/></g><g id="n15-15" class="n A" transform="translate(812 790)"><use href="#k"/><use href="#r"/></g><g id="n15-16" class="n B" transform="translate(864 790)"><use href="#k"/><use href="#r"/></g><g id="n15-17" class="n A" transform="translate(916 790)"><use href="#k"/><use href="#r"/></g><g id="n15-18" class="n B" transform="translate(968 790)"><use href="#k"/><use href="#r"/></g>
<g id="n16-1" class="n B" transform="translate(84 842)"><use href="#k"/><use href="#l"/></g><g id="n16-2" class="n B" transform="translate(136 842)"><use href="#k"/><use href="#l"/></g><g id="n16-3" class="n B" transform="translate(188 842)"><use href="#k"/><use href="#l"/></g><g id="n16-4" class="n B" transform="translate(240 842)"><use href="#k"/><use href="#l"/></g><g id="n16-5" class="n B" transform="translate(292 842)"><use href="#k"/><use href="#l"/></g><g id="n16-6" class="n A" transform="translate(344 842)"><use href="#k"/><use href="#l"/></g><g id="n16-7" class="n A" transform="translate(396 842)"><use href="#k"/><use href="#l"/></g><g id="n16-8" class="n B" transform="translate(448 842)"><use href="#k"/><use href="#l"/></g><g id="n16-9" class="n B" transform="translate(500 842)"><use href="#k"/><use href="#l"/></g><g id="n16-10" class="n B" transform="translate(552 842)"><use href="#k"/><use href="#l"/></g><g id="n16-11" class="n B" transform="translate(604 842)"><use href="#k"/><use href="#l"/></g><g id="n16-12" class="n B" transform="translate(656 842)"><use href="#k"/><use href="#l"/></g><g id="n16-13" class="n B" transform="translate(708 842)"><use href="#k"/><use href="#l"/></g><g id="n16-14" class="n B" transform="translate(760 842)"><use href="#k"/><use href="#l"/></g><g id="n16-15" class="n A" transform="translate(812 842)"><use href="#k"/><use href="#l"/></g><g id="n16-16" class="n A" transform="translate(864 842)"><use href="#k"/><use href="#l"/></g><g id="n16-17" class="n A" transform="translate(916 842)"><use href="#k"/><use href="#l"/></g><g id="n16-18" class="n B" transform="translate(968 842)"><use href="#k"/><use href="#l"/></g>
<g id="n17-1" class="n F" transform="translate(84 894)"><use href="#k"/><use href="#r"/></g><g id="n17-2" class="n F" transform="translate(136 894)"><use href="#k"/><use href="#r"/></g><g id="n17-3" class="n F" transform="translate(188 894)"><use href="#k"/><use href="#r"/></g><g id="n17-4" class="n F" transform="translate(240 894)"><use href="#k"/><use href="#r"/></g><g id="n17-5" class="n F" transform="translate(292 894)"><use href="#k"/><use href="#r"/></g><g id="n17-6" class="n A" transform="translate(344 894)"><use href="#k"/><use href="#r"/></g><g id="n17-7" class="n A" transform="translate(396 894)"><use href="#k"/><use href="#r"/></g><g id="n17-8" class="n F" transform="translate(448 894)"><use href="#k"/><use href="#r"/></g><g id="n17-9" class="n F" transform="translate(500 894)"><use href="#k"/><use href="#r"/></g><g id="n17-10" class="n F" transform="translate(552 894)"><use href="#k"/><use href="#r"/></g><g id="n17-11" class="n F" transform="translate(604 894)"><use href="#k"/><use href="#r"/></g><g id="n17-12" class="n F" transform="translate(656 894)"><use href="#k"/><use href="#r"/></g><g id="n17-13" class="n F" transform="translate(708 894)"><use href="#k"/><use href="#r"/></g><g id="n17-14" class="n F" transform="translate(760 894)"><use href="#k"/><use href="#r"/></g><g id="n17-15" class="n A" transform="translate(812 894)"><use href="#k"/><use href="#r"/></g><g id="n17-16" class="n F" transform="translate(864 894)"><use href="#k"/><use href="#r"/></g><g id="n17-17" class="n F" transform="translate(916 894)"><use href="#k"/><use href="#r"/></g><g id="n17-18" class="n F" transform="translate(968 894)"><use href="#k"/><use href="#r"/></g>
<g id="n18-1" class="n F" transform="translate(84 946)"><use href="#k"/><use href="#l"/></g><g id="n18-2" class="n F" transform="translate(136 946)"><use href="#k"/><use href="#l"/></g><g id="n18-3" class="n F" transform="translate(188 946)"><use href="#k"/><use href="#l"/></g><g id="n18-4" class="n F" transform="translate(240 946)"><use href="#k"/><use href="#l"/></g><g id="n18-5" class="n F" transform="translate(292 946)"><use href="#k"/><use href="#l"/></g><g id="n18-6" class="n A" transform="translate(344 946)"><use href="#k"/><use href="#l"/></g><g id="n18-7" class="n A" transform="translate(396 946)"><use href="#k"/><use href="#l"/></g><g id="n18-8" class="n F" transform="translate(448 946)"><use href="#k"/><use href="#l"/></g><g id="n18-9" class="n F" transform="translate(500 946)"><use href="#k"/><use href="#l"/></g><g id="n18-10" class="n F" transform="translate(552 946)"><use href="#k"/><use href="#l"/></g><g id="n18-11" class="n F" transform="translate(604 946)"><use href="#k"/><use href="#l"/></g><g id="n18-12" class="n F" transform="translate(656 946)"><use href="#k"/><use href="#l"/></g><g id="n18-13" class="n F" transform="translate(708 946)"><use href="#k"/><use href="#l"/></g><g id="n18-14" class="n F" transform="translate(760 946)"><use href="#k"/><use href="#l"/></g><g id="n18-15" class="n A" transform="translate(812 946)"><use href="#k"/><use href="#l"/></g><g id="n18-16" class="n F" transform="translate(864 946)"><use href="#k"/><use href="#l"/></g><g id="n18-17" class="n F" transform="translate(916 946)"><use href="#k"/><use href="#l"/></g><g id="n18-18" class="n F" transform="translate(968 946)"><use href="#k"/><use href="#l"/></g>
</g>
<text class="wm" x="527" y="508">BRACELETBOOK.COM</text>
</svg>
